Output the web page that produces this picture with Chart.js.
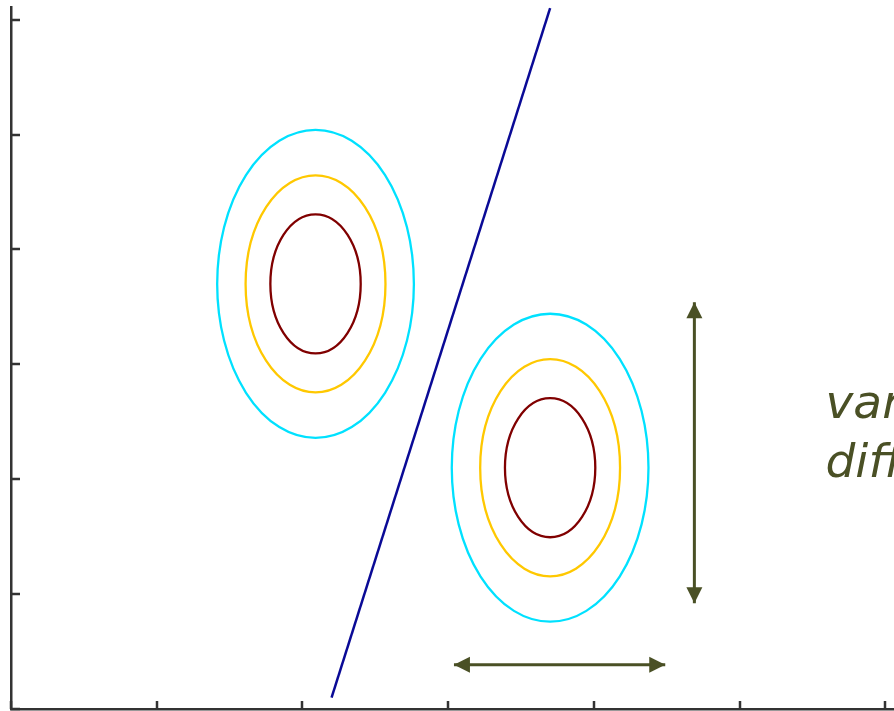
<!DOCTYPE html>
<html>
<head>
<meta charset="utf-8">
<style>
  html, body { margin: 0; padding: 0; background: #fff; overflow: hidden; }
  #wrap { width: 894px; height: 711px; position: relative; }
</style>
<script src="https://cdn.jsdelivr.net/npm/chart.js@4.4.1/dist/chart.umd.min.js"></script>
</head>
<body>
<div id="wrap"><canvas id="grafico"></canvas></div>
<script>
// tick positions on both axes (no labels shown)
const xTicks = [0, 1, 2, 3, 4, 5, 6];
const yTicks = [0, 1, 2, 3, 4, 5, 6];

// decision boundary (two end points)
const boundaryX = [2.2, 3.7];
const boundaryY = [0.1, 6.1];

// contour ellipses: centre and half-widths per class
const centreX = [2.09, 3.70];
const centreY = [3.7, 2.1];
const contourColors = ['#00e1ff', '#ffc800', '#800000'];
const radiusX = [0.675, 0.48, 0.31];
const radiusY = [1.34, 0.945, 0.605];

// arrows: [x1, y1, x2, y2]
const arrowV = [4.69, 0.92, 4.69, 3.54];
const arrowH = [3.04, 0.385, 4.49, 0.385];

const labelLines = ['variances', 'different'];
const labelX = 5.59;
const labelY = [2.53, 2.02];

const ink = '#4a5025';

const drawArrowHead = (ctx, x1, y1, x2, y2) => {
    const ang = Math.atan2(y2 - y1, x2 - x1);
    const len = 16, half = 8;
    ctx.beginPath();
    ctx.moveTo(x2, y2);
    ctx.lineTo(x2 - len * Math.cos(ang) + half * Math.sin(ang), y2 - len * Math.sin(ang) - half * Math.cos(ang));
    ctx.lineTo(x2 - len * Math.cos(ang) - half * Math.sin(ang), y2 - len * Math.sin(ang) + half * Math.cos(ang));
    ctx.closePath();
    ctx.fill();
};

const drawArrow = (ctx, sx, sy, a) => {
    const x1 = sx.getPixelForValue(a[0]), y1 = sy.getPixelForValue(a[1]);
    const x2 = sx.getPixelForValue(a[2]), y2 = sy.getPixelForValue(a[3]);
    ctx.beginPath();
    ctx.moveTo(x1, y1);
    ctx.lineTo(x2, y2);
    ctx.stroke();
    drawArrowHead(ctx, x1, y1, x2, y2);
    drawArrowHead(ctx, x2, y2, x1, y1);
};

const extrasPlugin = {
    id: 'extras',
    afterDatasetsDraw(chart) {
        const ctx = chart.ctx;
        const sx = chart.scales.x, sy = chart.scales.y;
        ctx.save();

        // contours
        ctx.lineWidth = 2.3;
        centreX.forEach((cx, i) => {
            contourColors.forEach((col, j) => {
                const px = sx.getPixelForValue(cx);
                const py = sy.getPixelForValue(centreY[i]);
                const rx = sx.getPixelForValue(cx + radiusX[j]) - px;
                const ry = py - sy.getPixelForValue(centreY[i] + radiusY[j]);
                ctx.strokeStyle = col;
                ctx.beginPath();
                ctx.ellipse(px, py, rx, ry, 0, 0, Math.PI * 2);
                ctx.stroke();
            });
        });

        // arrows
        ctx.strokeStyle = ink;
        ctx.fillStyle = ink;
        ctx.lineWidth = 3;
        drawArrow(ctx, sx, sy, arrowV);
        drawArrow(ctx, sx, sy, arrowH);

        // label
        ctx.font = 'oblique 47px "DejaVu Sans", sans-serif';
        ctx.textBaseline = 'alphabetic';
        labelLines.forEach((t, i) => {
            ctx.fillText(t, sx.getPixelForValue(labelX), sy.getPixelForValue(labelY[i]));
        });

        // inward tick marks
        ctx.strokeStyle = '#333';
        ctx.lineWidth = 2.5;
        xTicks.forEach(v => {
            const px = Math.round(sx.getPixelForValue(v));
            ctx.beginPath();
            ctx.moveTo(px, sy.bottom);
            ctx.lineTo(px, sy.bottom - 8);
            ctx.stroke();
        });
        yTicks.forEach(v => {
            const py = Math.round(sy.getPixelForValue(v));
            ctx.beginPath();
            ctx.moveTo(sx.left, py);
            ctx.lineTo(sx.left + 9, py);
            ctx.stroke();
        });
        ctx.restore();
    }
};

new Chart(document.getElementById('grafico').getContext('2d'), {
    type: 'scatter',
    data: {
        datasets: [{
            data: boundaryX.map((x, i) => ({ x: x, y: boundaryY[i] })),
            showLine: true,
            borderColor: '#0a0a96',
            borderWidth: 2.5,
            pointRadius: 0
        }]
    },
    options: {
        responsive: true,
        maintainAspectRatio: false,
        animation: false,
        layout: { padding: { left: 11, right: 0, top: 7, bottom: 2 } },
        plugins: { legend: { display: false }, tooltip: { enabled: false } },
        scales: {
            x: {
                type: 'linear', min: 0, max: 6.06,
                ticks: { display: false },
                grid: { display: false, drawTicks: false },
                border: { display: true, color: '#333', width: 2.5 }
            },
            y: {
                type: 'linear', min: 0, max: 6.11,
                ticks: { display: false },
                grid: { display: false, drawTicks: false },
                border: { display: true, color: '#333', width: 2.5 }
            }
        }
    },
    plugins: [extrasPlugin]
});
</script>
</body>
</html>
